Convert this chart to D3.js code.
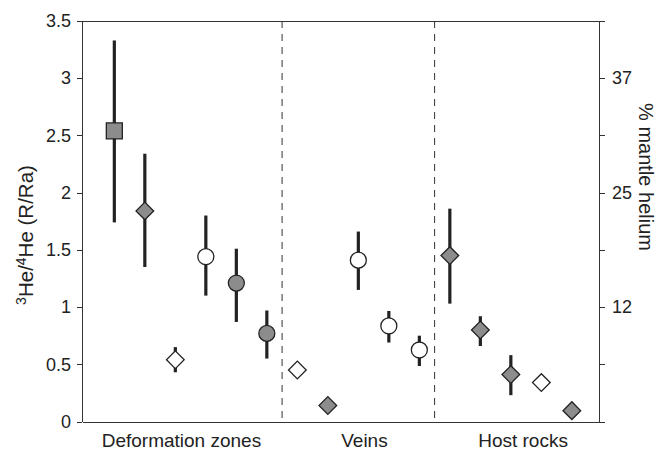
<!DOCTYPE html>
<meta charset="utf-8">
<style>
body { margin: 0; background: #fff; }
svg text { font-family: "Liberation Sans", Arial, sans-serif; fill: #222; }
.axis path, .axis line { stroke: #333; stroke-width: 1; shape-rendering: crispEdges; }
.axis text { font-size: 18px; }
</style>
<body>
<div id="graph"></div>
<script src="https://d3js.org/d3.v7.min.js"></script>
<script>
// data
var groups = ["Deformation zones", "Veins", "Host rocks"];
var groupLabelPos = [3.2, 9.2, 14.4];
var dividers = [6.5, 11.5];
var positions = [1, 2, 3, 4, 5, 6, 7, 8, 9, 10, 11, 12, 13, 14, 15, 16];
var values  = [2.54, 1.84, 0.54, 1.44, 1.21, 0.77, 0.45, 0.14, 1.41, 0.835, 0.625, 1.45, 0.80, 0.41, 0.34, 0.095];
var errLow  = [1.74, 1.35, 0.43, 1.10, 0.87, 0.55, null, null, 1.15, 0.69, 0.485, 1.03, 0.66, 0.23, null, null];
var errHigh = [3.33, 2.34, 0.65, 1.80, 1.51, 0.97, null, null, 1.66, 0.966, 0.75, 1.86, 0.92, 0.58, null, null];
var shapes = ["square", "diamond", "diamond", "circle", "circle", "circle", "diamond", "diamond",
              "circle", "circle", "circle", "diamond", "diamond", "diamond", "diamond", "diamond"];
var filled = [true, true, false, false, true, true, false, true, false, false, false, true, true, true, false, true];
var leftTicks = [0, 0.5, 1, 1.5, 2, 2.5, 3, 3.5];
var rightTicks = [0, 0.5, 1, 1.5, 2, 2.5, 3, 3.5];
var rightLabels = {1: "12", 2: "25", 3: "37"};

var margin = {top: 21, right: 61, bottom: 28.5, left: 82},
    width = 660 - margin.left - margin.right,
    height = 450 - margin.top - margin.bottom;

var svg = d3.select("#graph").append("svg")
    .attr("width", 660).attr("height", 450)
  .append("g")
    .attr("transform", "translate(" + margin.left + "," + margin.top + ")");

var x = d3.scaleLinear().domain([-0.06, 16.89]).range([0, width]);
var y = d3.scaleLinear().domain([0, 3.5]).range([height, 0]);

// frame top line
svg.append("line")
    .attr("x1", 0).attr("x2", width).attr("y1", 0).attr("y2", 0)
    .attr("stroke", "#333").attr("shape-rendering", "crispEdges");

svg.append("g").attr("class", "axis")
    .call(d3.axisLeft(y).tickValues(leftTicks).tickSize(5).tickSizeOuter(0).tickPadding(6)
        .tickFormat(function(d) { return d3.format("")(d); }));

svg.append("g").attr("class", "axis")
    .attr("transform", "translate(" + width + ",0)")
    .call(d3.axisRight(y).tickValues(rightTicks).tickSize(6).tickSizeOuter(0).tickPadding(7)
        .tickFormat(function(d) { return rightLabels[d] || ""; }));

svg.append("g").attr("class", "axis")
    .attr("transform", "translate(0," + height + ")")
    .call(d3.axisBottom(x).tickValues([]).tickSizeOuter(0));

// dashed group dividers
svg.selectAll(".divider")
    .data(dividers)
    .enter().append("line")
    .attr("class", "divider")
    .attr("x1", function(d) { return x(d); })
    .attr("x2", function(d) { return x(d); })
    .attr("y1", 0).attr("y2", height)
    .attr("stroke", "#333").attr("stroke-width", 1)
    .attr("stroke-dasharray", "7,6");

// group labels
svg.selectAll(".glabel")
    .data(groups)
    .enter().append("text")
    .attr("class", "glabel")
    .attr("x", function(d, i) { return x(groupLabelPos[i]); })
    .attr("y", height + 25.5)
    .attr("text-anchor", "middle")
    .attr("font-size", "19px")
    .text(function(d) { return d; });

var pts = positions.map(function(p, i) {
    return {pos: p, v: values[i], lo: errLow[i], hi: errHigh[i], shape: shapes[i], filled: filled[i]};
});

// error bars
svg.selectAll(".err")
    .data(pts.filter(function(d) { return d.lo != null; }))
    .enter().append("line")
    .attr("class", "err")
    .attr("x1", function(d) { return x(d.pos); })
    .attr("x2", function(d) { return x(d.pos); })
    .attr("y1", function(d) { return y(d.hi); })
    .attr("y2", function(d) { return y(d.lo); })
    .attr("stroke", "#222").attr("stroke-width", 3.2);

var sym = {
    square: d3.symbol().type(d3.symbolSquare).size(16 * 16),
    circle: d3.symbol().type(d3.symbolCircle).size(Math.PI * 8 * 8),
    diamond: d3.symbol().type(d3.symbolSquare).size(12.5 * 12.5)
};

svg.selectAll(".pt")
    .data(pts)
    .enter().append("path")
    .attr("class", "pt")
    .attr("d", function(d) { return sym[d.shape](); })
    .attr("transform", function(d) {
        return "translate(" + x(d.pos) + "," + y(d.v) + ")" + (d.shape == "diamond" ? " rotate(45)" : "");
    })
    .attr("fill", function(d) { return d.filled ? "#8c8c8c" : "#fff"; })
    .attr("stroke", "#222").attr("stroke-width", 1.3);

// axis titles
var yl = svg.append("text")
    .attr("transform", "translate(" + (-49) + "," + (235 - margin.top) + ") rotate(-90)")
    .attr("text-anchor", "middle")
    .attr("font-size", "20.5px");
yl.append("tspan").attr("font-size", "14px").attr("dy", "-7").text("3");
yl.append("tspan").attr("dy", "7").text("He/");
yl.append("tspan").attr("font-size", "14px").attr("dy", "-7").text("4");
yl.append("tspan").attr("dy", "7").text("He (R/Ra)");

svg.append("text")
    .attr("transform", "translate(" + (width + 40) + "," + (177 - margin.top) + ") rotate(90)")
    .attr("text-anchor", "middle")
    .attr("font-size", "20px")
    .text("% mantle helium");
</script>
</body>
